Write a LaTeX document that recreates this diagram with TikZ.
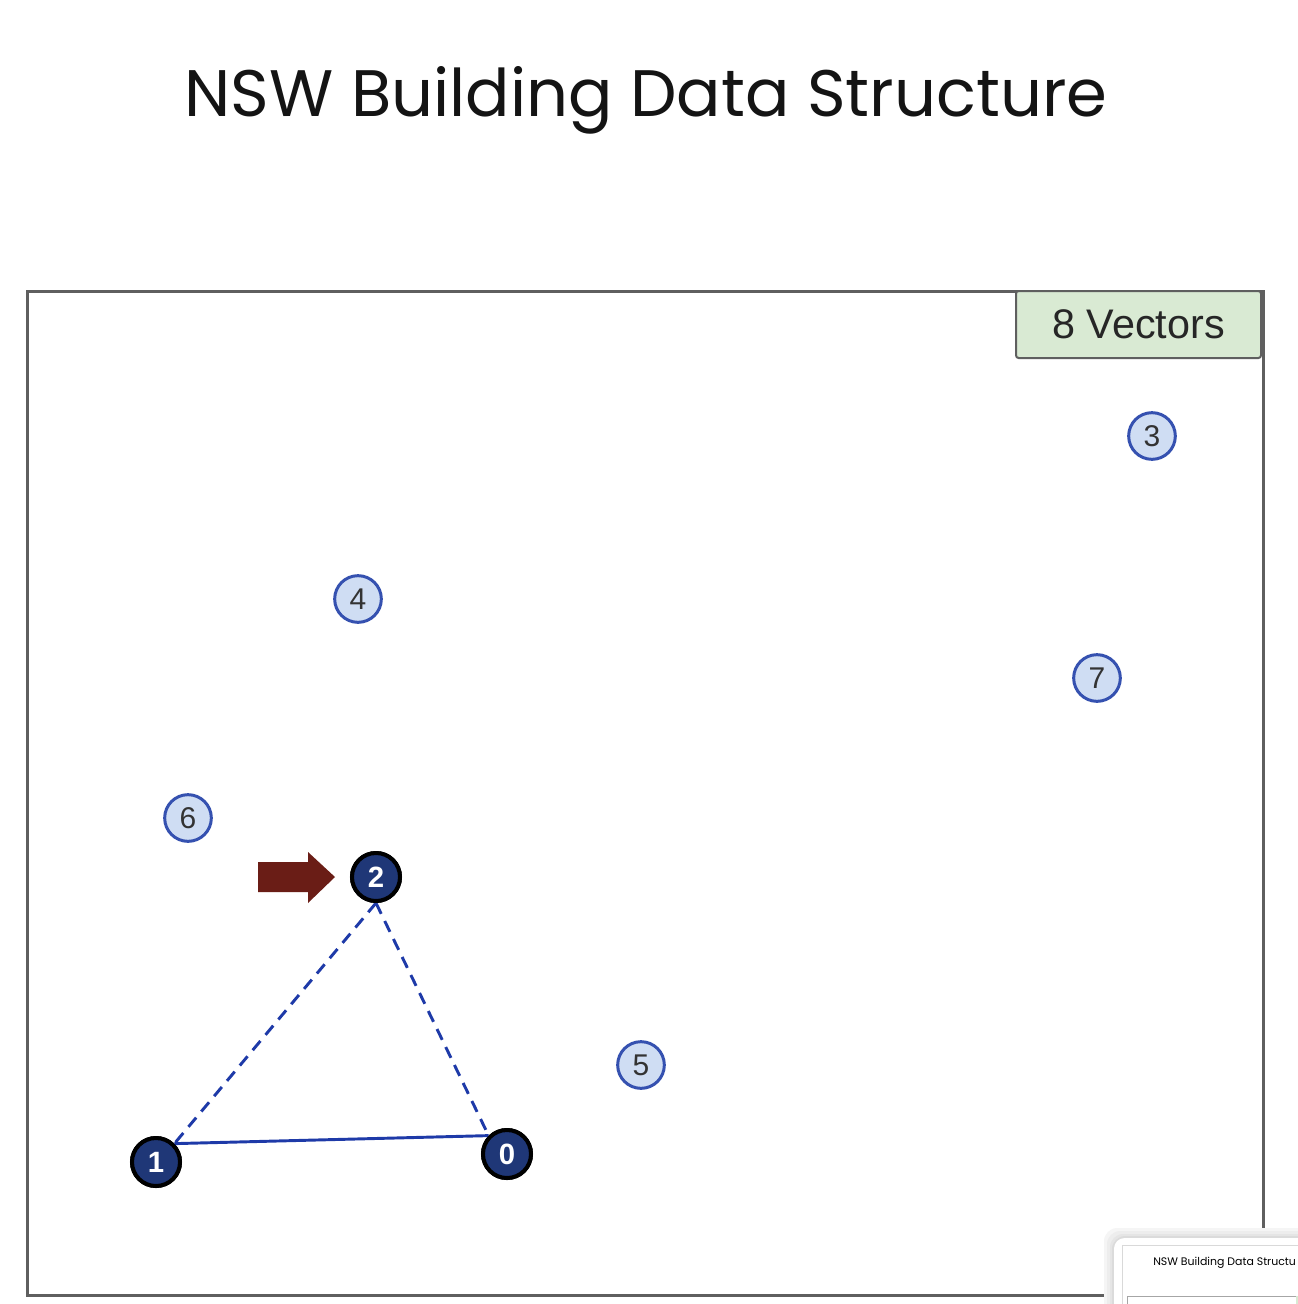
\documentclass[tikz,border=0pt]{standalone}
\usepackage{fontspec}
\setmainfont{Liberation Sans}
\newfontfamily\poppins{Poppins}
\definecolor{framegray}{HTML}{5F5F5F}
\definecolor{boxgreen}{HTML}{D9EAD3}
\definecolor{lightfill}{HTML}{CFDDF3}
\definecolor{lightedge}{HTML}{3551B0}
\definecolor{darkfill}{HTML}{1F3777}
\definecolor{edgeblue}{HTML}{1E3AA8}
\definecolor{arrowred}{HTML}{6A1D16}
\tikzset{
  vecnode/.style={circle, draw=lightedge, fill=lightfill, line width=2.25pt, minimum size=35pt, inner sep=0pt, font=\fontsize{22.5}{24}\selectfont, text=black!80},
  selnode/.style={circle, draw=black, fill=darkfill, line width=3pt, minimum size=36pt, inner sep=0pt, font=\fontsize{22}{24}\selectfont\bfseries, text=white},
  solidedge/.style={draw=edgeblue, line width=2.2pt},
  dashededge/.style={draw=edgeblue, line width=2.2pt, dash pattern=on 9pt off 6pt},
}
\begin{document}
\begin{tikzpicture}[x=0.75pt, y=-0.75pt]
\useasboundingbox (0,0) rectangle (1298,1304);
\clip (0,0) rectangle (1298,1304);
\fill[white] (0,0) rectangle (1298,1304);
% title
\node[font=\poppins\fontsize{49.3}{56}\selectfont, anchor=base, text=black!92] (title) at (646,116) {NSW Building Data Structure};
% frame
\draw[framegray, line width=2.25pt] (27,291) rectangle (1263,1295);
% label box
\node[draw=framegray, fill=boxgreen, line width=1.5pt, rounded corners=2pt, minimum width=183.75pt, minimum height=50.25pt, inner sep=0pt, font=\fontsize{31}{36}\selectfont, text=black!85] (vec) at (1138.5,324.5) {8 Vectors};
% vector nodes
\node[vecnode] (n3) at (1152,436) {3};
\node[vecnode] (n4) at (358,599) {4};
\node[vecnode] (n7) at (1097,678) {7};
\node[vecnode] (n6) at (188,818) {6};
\node[vecnode] (n5) at (641,1065) {5};
% selected nodes
\node[selnode] (n2) at (376,877) {2};
\node[selnode] (n1) at (156,1162) {1};
\node[selnode] (n0) at (507,1154) {0};
% edges
\draw[solidedge] (n1.45) -- (n0.135);
\draw[dashededge] (n2.south) -- (n1.45);
\draw[dashededge] (n2.south) -- (n0.135);
% redraw selected nodes above edges
\node[selnode] at (376,877) {2};
\node[selnode] at (156,1162) {1};
\node[selnode] at (507,1154) {0};
% arrow
\fill[arrowred] (258,862) -- (308,862) -- (308,852) -- (335,877) -- (308,903) -- (308,892) -- (258,892) -- cycle;
% thumbnail overlay
\foreach \s/\c in {10/4,7/7,4/10,2/14} {
  \fill[black!\c, rounded corners=10pt] (1114-\s,1238-\s) rectangle (1330,1330);
}
\fill[white, rounded corners=8pt] (1114,1238) rectangle (1330,1330);
\draw[black!15, line width=0.75pt] (1122,1245) rectangle (1330,1330);
\node[font=\poppins\fontsize{8.2}{10}\selectfont, anchor=base west, inner sep=0pt] (thumb) at (1153,1265) {NSW Building Data Structu};
\draw[black!35, line width=0.75pt] (1127,1296) rectangle (1296,1330);
\fill[boxgreen] (1296,1296) rectangle (1330,1330);
\end{tikzpicture}
\end{document}
